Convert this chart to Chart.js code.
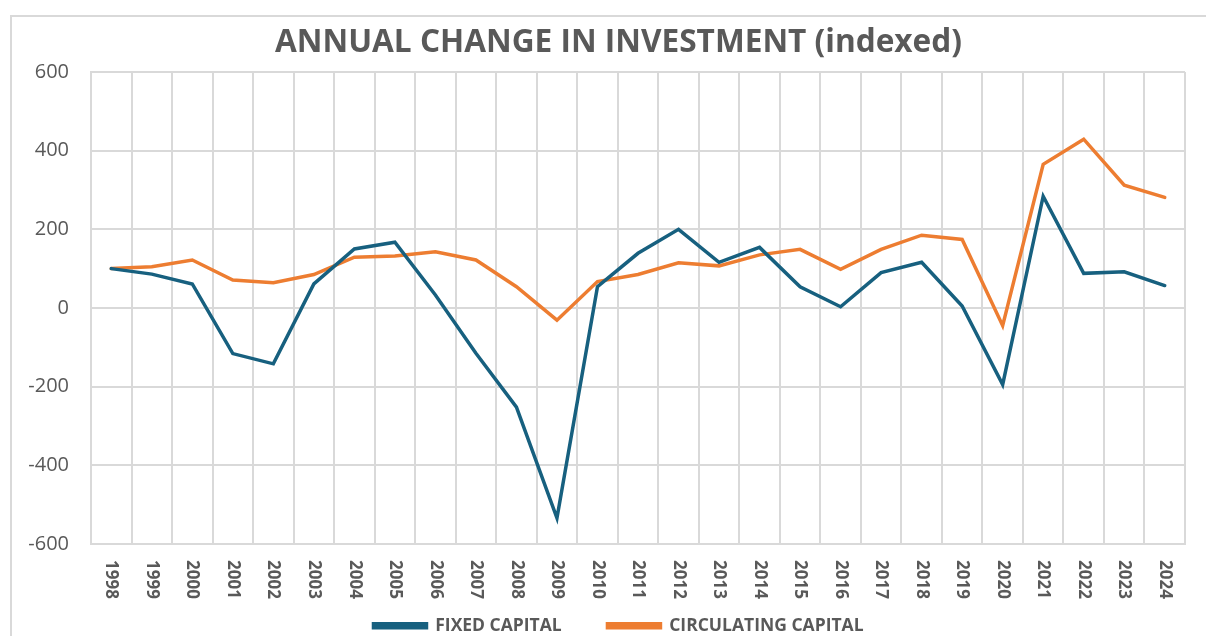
<!DOCTYPE html>
<html>
<head>
<meta charset="utf-8">
<script src="https://cdn.jsdelivr.net/npm/chart.js@4/dist/chart.umd.min.js"></script>
<style>
  body { margin: 0; background: #fff; }
  #frame {
    position: absolute; left: 10px; top: 15px; width: 1196px; height: 621px;
    border-left: 2px solid #d9d9d9; border-top: 2px solid #d9d9d9;
  }
  #wrap { position: absolute; left: 0; top: 0; width: 1206px; height: 636px; }
</style>
</head>
<body>
<div id="frame"></div>
<div id="wrap"><canvas id="chart"></canvas></div>
<script>
'use strict';

// data
let years = ['1998', '1999', '2000', '2001', '2002', '2003', '2004', '2005', '2006', '2007',
  '2008', '2009', '2010', '2011', '2012', '2013', '2014', '2015', '2016', '2017',
  '2018', '2019', '2020', '2021', '2022', '2023', '2024'];

let fixedCapital = [100, 86, 61, -116, -142, 61, 150, 167, 33, -115,
  -252, -534, 54, 139, 200, 116, 154, 54, 3, 90,
  116, 5, -195, 284, 88, 92, 57];

let circulatingCapital = [100, 105, 122, 71, 64, 85, 129, 132, 143, 122,
  54, -31, 67, 85, 115, 107, 135, 149, 98, 149,
  185, 174, -45, 365, 429, 312, 281];

let yTicks = [-600, -400, -200, 0, 200, 400, 600];

let textColor = '#595959';
let gridColor = '#d9d9d9';
let fontName = '"Open Sans", sans-serif';

// tick labels drawn by hand: x labels read top to bottom in the original,
// and the y labels sit left of the axis box (chart.js would clip them)
let axisLabels = {
  id: 'axisLabels',
  afterDraw(chart) {
    let xScale = chart.scales.x;
    let yScale = chart.scales.y;
    let ctx = chart.ctx;
    ctx.save();
    ctx.fillStyle = textColor;

    ctx.font = 'bold 17px ' + fontName;
    ctx.textAlign = 'left';
    ctx.textBaseline = 'middle';
    for (let i = 0; i < years.length; i++) {
      let px = xScale.getPixelForTick(i);
      ctx.save();
      ctx.translate(px, xScale.top + 16);
      ctx.rotate(Math.PI / 2);
      ctx.fillText(years[i], 0, 0);
      ctx.restore();
    }

    ctx.font = '20px ' + fontName;
    ctx.textAlign = 'right';
    for (let i = 0; i < yTicks.length; i++) {
      let py = yScale.getPixelForValue(yTicks[i]);
      ctx.fillText(String(yTicks[i]), yScale.right - 22, py);
    }
    ctx.restore();
  }
};

let ctx = document.getElementById('chart').getContext('2d');

let chartObject = {
  type: 'line',
  data: {
    labels: years,
    datasets: [{
      label: 'FIXED CAPITAL',
      data: fixedCapital,
      borderColor: '#17607f',
      backgroundColor: '#17607f',
      borderWidth: 3.5,
      pointRadius: 0,
      tension: 0,
      borderCapStyle: 'round'
    }, {
      label: 'CIRCULATING CAPITAL',
      data: circulatingCapital,
      borderColor: '#ed7d31',
      backgroundColor: '#ed7d31',
      borderWidth: 3.5,
      pointRadius: 0,
      tension: 0,
      borderCapStyle: 'round'
    }]
  },
  options: {
    responsive: true,
    maintainAspectRatio: false,
    animation: false,
    layout: { padding: { left: 52, right: 21, top: 0, bottom: 0 } },
    plugins: {
      title: {
        display: true,
        text: 'ANNUAL CHANGE IN INVESTMENT (indexed)',
        color: textColor,
        font: { family: fontName, size: 31.6, weight: 'bold' },
        padding: { top: 24, bottom: 10 }
      },
      legend: {
        position: 'bottom',
        maxHeight: 21,
        labels: {
          color: textColor,
          font: { family: fontName, size: 17.5, weight: 'bold' },
          boxWidth: 53,
          boxHeight: 4,
          padding: 2,
          // wider gap between the two entries, as in the original
          generateLabels(chart) {
            let items = Chart.defaults.plugins.legend.labels.generateLabels(chart);
            items[0].text = items[0].text + '\u2003\u2003\u2002';
            return items;
          }
        }
      },
      tooltip: { enabled: false }
    },
    scales: {
      x: {
        offset: true,
        grid: { color: gridColor, lineWidth: 2, offset: true, drawTicks: false },
        border: { color: gridColor, width: 2 },
        ticks: { display: false },
        afterFit(scale) { scale.height = 71; }
      },
      y: {
        min: -600,
        max: 600,
        afterBuildTicks(scale) { scale.ticks = yTicks.map(v => ({ value: v })); },
        grid: { color: gridColor, lineWidth: 2, drawTicks: false },
        border: { color: gridColor, width: 2 },
        ticks: { display: false },
        afterFit(scale) { scale.width = 39; }
      }
    }
  },
  plugins: [axisLabels]
};

const myChart = new Chart(ctx, chartObject);
</script>
</body>
</html>
